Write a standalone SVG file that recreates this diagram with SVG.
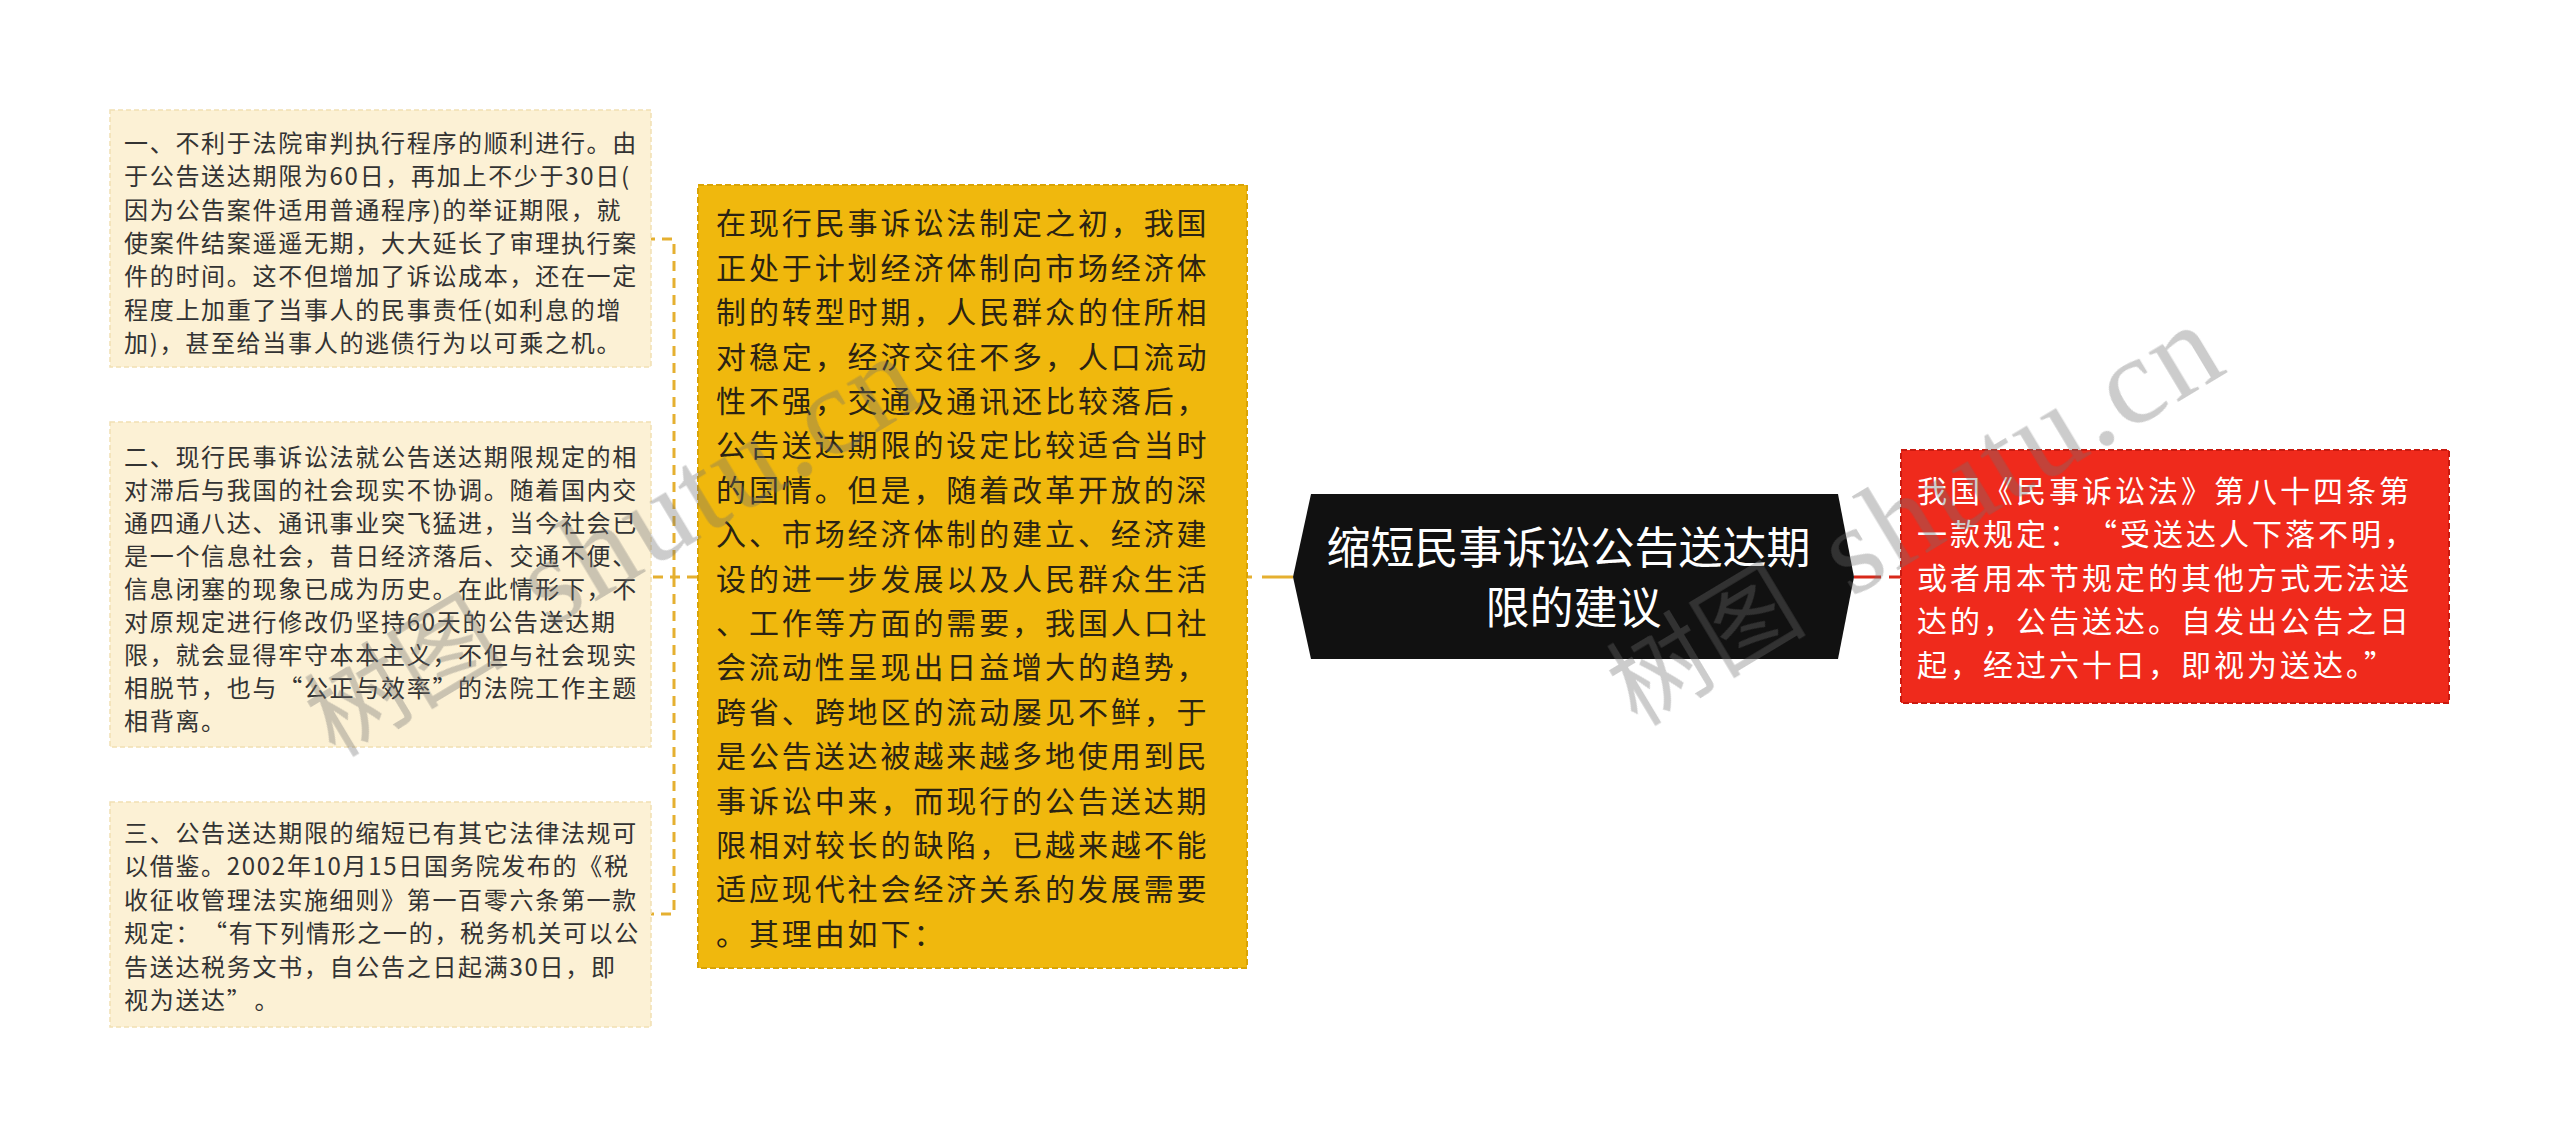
<svg xmlns="http://www.w3.org/2000/svg" width="2560" height="1137" viewBox="0 0 2560 1137">
<style>
.cream{fill:#FCF1D5;stroke:#F1E0B2;stroke-width:1.5;stroke-dasharray:5 3}
.yel{fill:#F0B80D;stroke:#D9A406;stroke-width:2;stroke-dasharray:6 3}
.red{fill:#EF2A1C;stroke:#C81A10;stroke-width:2;stroke-dasharray:6 3}
.hex{fill:#111111}
.t1{font-family:"Noto Sans CJK SC","Noto Sans",sans-serif;font-size:24px;letter-spacing:1.7px;fill:#333333}
.t2{font-family:"Noto Sans CJK SC","Noto Sans",sans-serif;font-size:30px;letter-spacing:2.9px;fill:#2B2313}
.t3{font-family:"Noto Sans CJK SC","Noto Sans",sans-serif;font-size:44px;fill:#FFFFFF}
.t4{font-family:"Noto Sans CJK SC","Noto Sans",sans-serif;font-size:30px;letter-spacing:3px;fill:#FFFFFF}
.cy{fill:none;stroke:#E5B030;stroke-width:3}
.cr{fill:none;stroke:#D8281A;stroke-width:3}
.wm{fill:#707070;opacity:0.36}
.wz{font-family:"Noto Sans CJK SC",sans-serif;font-size:100px}
.we{font-family:"Liberation Serif",serif;font-size:125px;letter-spacing:3px}
</style>
<rect width="2560" height="1137" fill="#FFFFFF"/>
<g id="connectors">
<path class="cy" d="M697,577 H651 M674,577 V239 H651 M674,577 V914 H651" stroke-dasharray="10 7"/>
<path class="cy" d="M1293,577 H1247" stroke-dasharray="31 10"/>
<path class="cr" d="M1854,577 H1901" stroke-dasharray="27 8"/>
</g>
<g id="node-1">
<rect class="cream" x="110" y="110" width="541" height="257"/>
<text class="t1">
<tspan x="124" y="152">一、不利于法院审判执行程序的顺利进行。由</tspan>
<tspan x="124" y="185.3">于公告送达期限为60日，再加上不少于30日(</tspan>
<tspan x="124" y="218.6">因为公告案件适用普通程序)的举证期限，就</tspan>
<tspan x="124" y="252">使案件结案遥遥无期，大大延长了审理执行案</tspan>
<tspan x="124" y="285.3">件的时间。这不但增加了诉讼成本，还在一定</tspan>
<tspan x="124" y="318.6">程度上加重了当事人的民事责任(如利息的增</tspan>
<tspan x="124" y="352">加)，甚至给当事人的逃债行为以可乘之机。</tspan>
</text>
</g>
<g id="node-2">
<rect class="cream" x="110" y="422" width="541" height="325"/>
<text class="t1">
<tspan x="124" y="466">二、现行民事诉讼法就公告送达期限规定的相</tspan>
<tspan x="124" y="499">对滞后与我国的社会现实不协调。随着国内交</tspan>
<tspan x="124" y="532">通四通八达、通讯事业突飞猛进，当今社会已</tspan>
<tspan x="124" y="565">是一个信息社会，昔日经济落后、交通不便、</tspan>
<tspan x="124" y="598">信息闭塞的现象已成为历史。在此情形下，不</tspan>
<tspan x="124" y="631">对原规定进行修改仍坚持60天的公告送达期</tspan>
<tspan x="124" y="664">限，就会显得牢守本本主义，不但与社会现实</tspan>
<tspan x="124" y="697">相脱节，也与“公正与效率”的法院工作主题</tspan>
<tspan x="124" y="730">相背离。</tspan>
</text>
</g>
<g id="node-3">
<rect class="cream" x="110" y="802" width="541" height="225"/>
<text class="t1">
<tspan x="124" y="842">三、公告送达期限的缩短已有其它法律法规可</tspan>
<tspan x="124" y="875.4">以借鉴。2002年10月15日国务院发布的《税</tspan>
<tspan x="124" y="908.8">收征收管理法实施细则》第一百零六条第一款</tspan>
<tspan x="124" y="942.2">规定：<tspan dx="14">“</tspan>有下列情形之一的，税务机关可以公</tspan>
<tspan x="124" y="975.6">告送达税务文书，自公告之日起满30日，即</tspan>
<tspan x="124" y="1009">视为送达”<tspan dx="14">。</tspan></tspan>
</text>
</g>
<g id="node-yellow">
<rect class="yel" x="698" y="185" width="549" height="783"/>
<text class="t2">
<tspan x="716" y="234.4">在现行民事诉讼法制定之初，我国</tspan>
<tspan x="716" y="278.8">正处于计划经济体制向市场经济体</tspan>
<tspan x="716" y="323.2">制的转型时期，人民群众的住所相</tspan>
<tspan x="716" y="367.6">对稳定，经济交往不多，人口流动</tspan>
<tspan x="716" y="412">性不强，交通及通讯还比较落后，</tspan>
<tspan x="716" y="456.4">公告送达期限的设定比较适合当时</tspan>
<tspan x="716" y="500.8">的国情。但是，随着改革开放的深</tspan>
<tspan x="716" y="545.2">入、市场经济体制的建立、经济建</tspan>
<tspan x="716" y="589.6">设的进一步发展以及人民群众生活</tspan>
<tspan x="716" y="634">、工作等方面的需要，我国人口社</tspan>
<tspan x="716" y="678.4">会流动性呈现出日益增大的趋势，</tspan>
<tspan x="716" y="722.8">跨省、跨地区的流动屡见不鲜，于</tspan>
<tspan x="716" y="767.2">是公告送达被越来越多地使用到民</tspan>
<tspan x="716" y="811.6">事诉讼中来，而现行的公告送达期</tspan>
<tspan x="716" y="856">限相对较长的缺陷，已越来越不能</tspan>
<tspan x="716" y="900.4">适应现代社会经济关系的发展需要</tspan>
<tspan x="716" y="944.8">。其理由如下：</tspan>
</text>
</g>
<g id="node-root">
<polygon class="hex" points="1293,577 1311,494 1838,494 1854,577 1838,659 1311,659"/>
<text class="t3" text-anchor="middle">
<tspan x="1573.5" y="563.7">缩短民事诉讼公告送达期</tspan>
<tspan x="1573.5" y="623.7">限的建议</tspan>
</text>
</g>
<g id="node-red">
<rect class="red" x="1901" y="450" width="548" height="253"/>
<text class="t4">
<tspan x="1917" y="501.5">我国《民事诉讼法》第八十四条第</tspan>
<tspan x="1917" y="545">一款规定：<tspan dx="20">“</tspan>受送达人下落不明，</tspan>
<tspan x="1917" y="588.5">或者用本节规定的其他方式无法送</tspan>
<tspan x="1917" y="632">达的，公告送达。自发出公告之日</tspan>
<tspan x="1917" y="675.5">起，经过六十日，即视为送达。”</tspan>
</text>
</g>
<g id="watermark" class="wm">
<text transform="translate(335,758) rotate(-31)"><tspan class="wz">树图</tspan><tspan class="we" dx="50">shutu.cn</tspan></text>
<text transform="translate(1637,727) rotate(-31)"><tspan class="wz">树图</tspan><tspan class="we" dx="50">shutu.cn</tspan></text>
</g>
</svg>
